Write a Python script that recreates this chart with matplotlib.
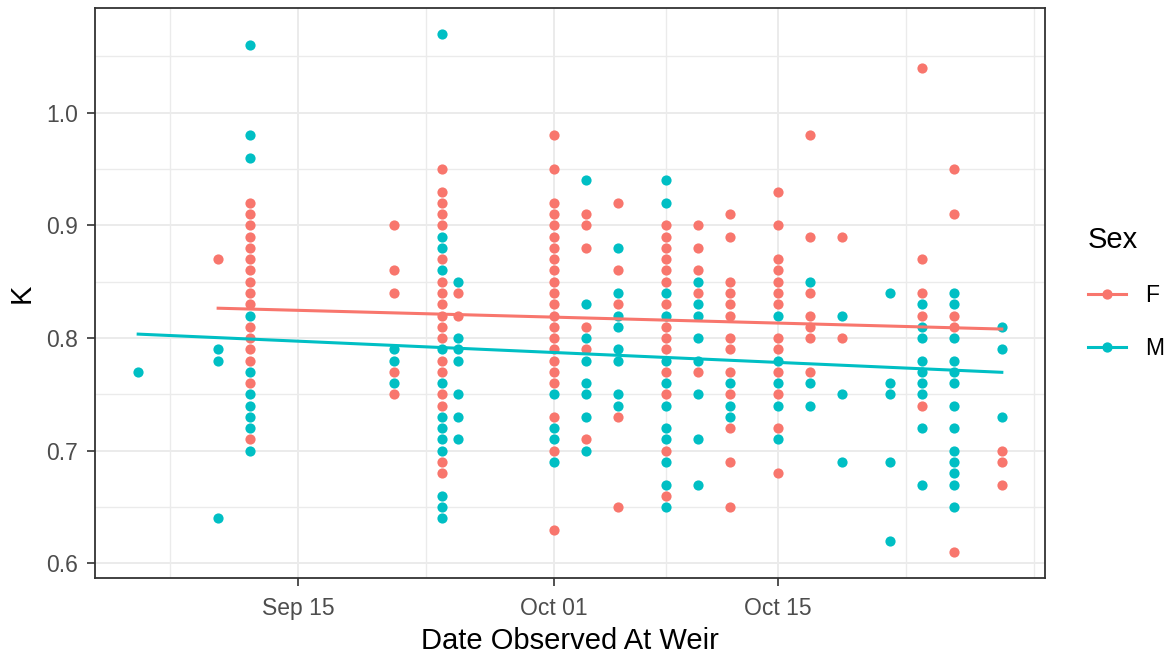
import numpy as np
import pandas as pd
import matplotlib
matplotlib.use("Agg")
import matplotlib.pyplot as plt
import matplotlib.dates as mdates
from matplotlib.lines import Line2D

plt.rcParams['font.family'] = ['Liberation Sans', 'DejaVu Sans']

# observation days at the weir
obs_dates = ["2021-09-05", "2021-09-10", "2021-09-12", "2021-09-21", "2021-09-24",
             "2021-09-25", "2021-10-01", "2021-10-03", "2021-10-05", "2021-10-08",
             "2021-10-10", "2021-10-12", "2021-10-15", "2021-10-17", "2021-10-19",
             "2021-10-22", "2021-10-24", "2021-10-26", "2021-10-29"]

# condition factor K per day, females
k_female = [
    [],
    [0.87],
    [0.92, 0.91, 0.90, 0.89, 0.88, 0.87, 0.86, 0.85, 0.84, 0.83, 0.81, 0.80, 0.79, 0.78, 0.76, 0.71],
    [0.90, 0.86, 0.84, 0.77, 0.75],
    [0.95, 0.93, 0.92, 0.91, 0.90, 0.87, 0.85, 0.84, 0.83, 0.82, 0.81, 0.80, 0.78, 0.77, 0.75, 0.74, 0.69, 0.68],
    [0.84, 0.82],
    [0.98, 0.95, 0.92, 0.91, 0.90, 0.89, 0.88, 0.87, 0.86, 0.85, 0.84, 0.83, 0.82, 0.81, 0.80, 0.79, 0.78, 0.77, 0.76, 0.73, 0.70, 0.63],
    [0.91, 0.90, 0.88, 0.81, 0.79, 0.71],
    [0.92, 0.86, 0.83, 0.73, 0.65],
    [0.90, 0.89, 0.88, 0.87, 0.86, 0.85, 0.83, 0.81, 0.80, 0.79, 0.77, 0.75, 0.70, 0.66],
    [0.90, 0.88, 0.86, 0.84, 0.77],
    [0.91, 0.89, 0.85, 0.84, 0.83, 0.82, 0.80, 0.79, 0.77, 0.75, 0.72, 0.69, 0.65],
    [0.93, 0.90, 0.87, 0.86, 0.85, 0.84, 0.83, 0.80, 0.79, 0.77, 0.75, 0.72, 0.68],
    [0.98, 0.89, 0.84, 0.82, 0.81, 0.80, 0.77],
    [0.89, 0.80],
    [],
    [1.04, 0.87, 0.84, 0.82, 0.74],
    [0.95, 0.91, 0.82, 0.81, 0.61],
    [0.70, 0.69, 0.67],
]

# males
k_male = [
    [0.77],
    [0.79, 0.78, 0.64],
    [1.06, 0.98, 0.96, 0.82, 0.77, 0.75, 0.74, 0.73, 0.72, 0.70],
    [0.79, 0.78, 0.76],
    [1.07, 0.89, 0.88, 0.86, 0.79, 0.76, 0.73, 0.72, 0.71, 0.70, 0.66, 0.65, 0.64],
    [0.85, 0.80, 0.79, 0.78, 0.75, 0.73, 0.71],
    [0.75, 0.72, 0.71, 0.69],
    [0.94, 0.83, 0.80, 0.78, 0.76, 0.75, 0.73, 0.70],
    [0.88, 0.84, 0.82, 0.81, 0.79, 0.78, 0.75, 0.74],
    [0.94, 0.92, 0.84, 0.82, 0.78, 0.76, 0.74, 0.72, 0.71, 0.69, 0.67, 0.65],
    [0.85, 0.83, 0.82, 0.80, 0.78, 0.75, 0.71, 0.67],
    [0.76, 0.74, 0.73],
    [0.82, 0.78, 0.76, 0.74, 0.71],
    [0.85, 0.76, 0.74],
    [0.82, 0.75, 0.69],
    [0.84, 0.76, 0.75, 0.69, 0.62],
    [0.83, 0.81, 0.80, 0.78, 0.77, 0.76, 0.75, 0.72, 0.67],
    [0.84, 0.83, 0.80, 0.78, 0.77, 0.76, 0.74, 0.72, 0.70, 0.69, 0.68, 0.67, 0.65],
    [0.81, 0.79, 0.73],
]

# linear trend (lm) ends
trend_dates_f = ["2021-09-10", "2021-10-29"]
trend_k_f = [0.8265, 0.808]
trend_dates_m = ["2021-09-05", "2021-10-29"]
trend_k_m = [0.8035, 0.7696]

sexes = ["F", "M"]
colors = {"F": "#F8766D", "M": "#00BFC4"}

major_dates = ["2021-09-15", "2021-10-01", "2021-10-15"]
minor_dates = ["2021-09-07", "2021-09-23", "2021-10-08", "2021-10-23", "2021-10-31"]


def long_table(values, sex):
    rows = []
    for d, ks in zip(obs_dates, values):
        for k in ks:
            rows.append((pd.Timestamp(d), k, sex))
    return pd.DataFrame(rows, columns=["date", "K", "Sex"])


df = pd.concat([long_table(k_female, "F"), long_table(k_male, "M")], ignore_index=True)

fig = plt.figure(figsize=(11.73, 6.54), dpi=100)
ax = fig.add_axes([95 / 1173, 1 - 578 / 654, 950 / 1173, 570 / 654])

for s in sexes:
    sub = df[df.Sex == s]
    ax.scatter(sub.date, sub.K, s=54, color=colors[s], linewidths=0, zorder=3)

ax.plot(pd.to_datetime(trend_dates_f), trend_k_f, color=colors["F"], lw=2.2, zorder=4)
ax.plot(pd.to_datetime(trend_dates_m), trend_k_m, color=colors["M"], lw=2.2, zorder=4)

# ggplot-like 5% expansion
dmin = mdates.date2num(df.date.min())
dmax = mdates.date2num(df.date.max())
pad = (dmax - dmin) * 0.05
ax.set_xlim(dmin - pad, dmax + pad)
kmin, kmax = df.K.min(), df.K.max()
kpad = (kmax - kmin) * 0.05
ax.set_ylim(kmin - kpad, kmax + kpad)

ax.set_xticks(pd.to_datetime(major_dates))
ax.set_xticks(pd.to_datetime(minor_dates), minor=True)
ax.xaxis.set_major_formatter(mdates.DateFormatter("%b %d"))
ax.set_yticks([0.6, 0.7, 0.8, 0.9, 1.0])
ax.set_yticks([0.65, 0.75, 0.85, 0.95, 1.05], minor=True)
ax.set_yticklabels(["0.6", "0.7", "0.8", "0.9", "1.0"])

ax.grid(which="major", color="#EBEBEB", lw=1.4, zorder=0)
ax.grid(which="minor", color="#EBEBEB", lw=1.0, zorder=0)
ax.set_axisbelow(True)

ax.tick_params(which="major", length=6, width=1.2, color="#333333",
               labelsize=16.5, labelcolor="#4D4D4D")
ax.tick_params(axis="x", which="major", pad=7.5)
ax.tick_params(axis="y", which="major", pad=6.5)
ax.tick_params(which="minor", length=0)
for sp in ax.spines.values():
    sp.set_color("#333333")
    sp.set_linewidth(1.3)

ax.set_xlabel("Date Observed At Weir", fontsize=21, labelpad=5)
ax.set_ylabel("K", fontsize=21, labelpad=7)

handles = [Line2D([], [], color=colors[s], lw=2.2, marker="o", markersize=7.4,
                  markeredgewidth=0) for s in sexes]
leg = fig.legend(handles, sexes, title="Sex", loc="upper left",
                 bbox_to_anchor=(1088 / 1173, 1 - 226 / 654), frameon=False,
                 fontsize=16.5, title_fontsize=21, handlelength=1.65,
                 handletextpad=0.85, labelspacing=1.3, borderpad=0,
                 borderaxespad=0, alignment="left")

fig.savefig("out.png", dpi=100)
